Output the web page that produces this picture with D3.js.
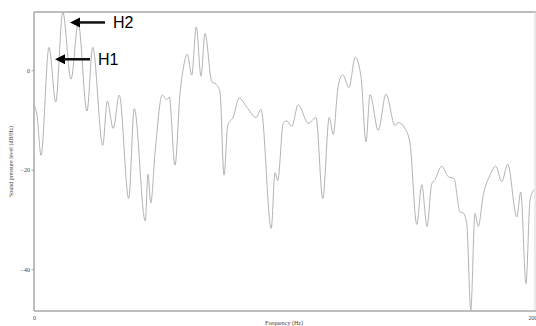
<!DOCTYPE html>
<html>
<head>
<meta charset="utf-8">
<script src="https://cdn.jsdelivr.net/npm/d3@7"></script>
<style>
  html, body { margin: 0; padding: 0; background: #fff; }
  svg { display: block; }
</style>
</head>
<body>
<svg id="chart" width="536" height="326"></svg>
<script>
// Spectrum: frequency (Hz) and sound pressure level (dB/Hz)
const freqHz = [0, 12, 28, 60, 87, 115, 148, 177, 212, 235, 275, 293, 317, 341, 379, 401, 445, 456, 467, 484,
  513, 531, 541, 564, 584, 597, 613, 631, 649, 668, 684, 711, 728, 744, 760, 775, 797, 821, 851, 888,
  908, 949, 964, 975, 997, 1011, 1031, 1057, 1097, 1128, 1155, 1181, 1197, 1216, 1235, 1260, 1285, 1308, 1328, 1344,
  1377, 1408, 1444, 1457, 1484, 1504, 1531, 1551, 1572, 1591, 1604, 1631, 1657, 1680, 1704, 1717, 1731, 1747, 1764, 1777,
  1797, 1824, 1847, 1871, 1895, 1931, 1947, 1968, 1984, 2000];
const levelDb = [-7.0, -9.0, -17.1, 4.6, -6.4, 11.7, -1.8, 9.4, -8.2, 4.6, -15.1, -6.2, -11.7, -5.0, -25.8, -7.7, -30.3, -20.9, -26.7, -16.7,
  -5.0, -5.9, -5.4, -19.1, -4.7, 0.3, 3.2, -1.0, 8.7, -1.2, 7.4, -2.3, -2.8, -4.4, -21.1, -11.1, -9.4, -5.6, -7.4, -9.5,
  -7.9, -31.8, -20.6, -22.2, -10.7, -10.2, -11.3, -6.9, -10.7, -9.5, -25.8, -9.5, -12.9, -3.4, -0.9, -3.5, 2.6, -1.3, -14.4, -4.9,
  -12.1, -4.8, -11.1, -10.5, -11.7, -14.7, -31.0, -23.0, -31.4, -22.8, -22.0, -19.3, -21.4, -21.8, -28.5, -28.7, -30.8, -48.2, -28.8, -31.4,
  -25.1, -21.1, -19.3, -22.4, -18.9, -29.5, -24.5, -42.9, -26.1, -24.0];

const xTicks = [0, 2000];
const yTicks = [-40, -20, 0];

// Harmonic annotations: arrow tip position in data units
const harmonicLabels = ["H1", "H2"];
const harmonicTipHz = [84, 144];
const harmonicTipDb = [2.2, 9.6];

const svg = d3.select("#chart");
const plotLeft = 34, plotRight = 534, plotTop = 12, plotBottom = 311;

const x = d3.scaleLinear().domain([0, 2000]).range([plotLeft, plotRight]);
const y = d3.scaleLinear().domain([-48.4, 11.7]).range([plotBottom, plotTop]);

const frameColor = "#a9a9a9";
const textColor = "#444";
const serif = "'Liberation Serif', 'DejaVu Serif', serif";

// Plot frame (top and right edges)
svg.append("line").attr("x1", plotLeft).attr("x2", 536).attr("y1", plotTop).attr("y2", plotTop)
  .attr("stroke", frameColor).attr("stroke-width", 1.5);
svg.append("line").attr("x1", plotRight + 1).attr("x2", plotRight + 1).attr("y1", plotTop).attr("y2", plotBottom)
  .attr("stroke", "#d4d4d4").attr("stroke-width", 1);

// Left axis
const yAxis = svg.append("g").attr("transform", `translate(${plotLeft},0)`)
  .call(d3.axisLeft(y).tickValues(yTicks).tickSize(2.5).tickPadding(1.5).tickFormat(d3.format("d")));
yAxis.select(".domain").attr("stroke", frameColor).attr("stroke-width", 1.5).attr("d", `M0,${plotTop}V${plotBottom}`);
yAxis.selectAll(".tick line").attr("stroke", frameColor);
yAxis.selectAll(".tick text").attr("fill", textColor)
  .style("font-family", serif).style("font-size", "6px");

// Bottom axis
const xAxis = svg.append("g").attr("transform", `translate(0,${plotBottom})`)
  .call(d3.axisBottom(x).tickValues(xTicks).tickSize(0).tickPadding(5).tickFormat(d3.format("d")));
xAxis.select(".domain").attr("stroke", frameColor).attr("stroke-width", 1.5).attr("d", `M${plotLeft},0H536`);
xAxis.selectAll(".tick text").attr("fill", textColor)
  .style("font-family", serif).style("font-size", "6px");

// Axis titles
svg.append("text")
  .attr("transform", `translate(13,${(plotTop + plotBottom) / 2}) rotate(-90)`)
  .attr("text-anchor", "middle")
  .attr("fill", textColor)
  .style("font-family", serif).style("font-size", "6px")
  .text("Sound pressure level (dB/Hz)");
svg.append("text")
  .attr("x", (plotLeft + plotRight) / 2)
  .attr("y", 325)
  .attr("text-anchor", "middle")
  .attr("fill", textColor)
  .style("font-family", serif).style("font-size", "6px")
  .text("Frequency (Hz)");

// Spectrum line
const points = freqHz.map((f, i) => [f, levelDb[i]]);
const line = d3.line().x(d => x(d[0])).y(d => y(d[1])).curve(d3.curveMonotoneX);
svg.append("path")
  .datum(points)
  .attr("fill", "none")
  .attr("stroke", "#b3b3b3")
  .attr("stroke-width", 1)
  .attr("d", line);

// Harmonic arrows and labels
harmonicLabels.forEach((label, i) => {
  const tx = x(harmonicTipHz[i]);
  const ty = y(harmonicTipDb[i]);
  const g = svg.append("g");
  g.append("path")
    .attr("d", `M${tx},${ty}L${tx + 10},${ty - 5}L${tx + 10},${ty + 5}Z`)
    .attr("fill", "#000");
  g.append("line")
    .attr("x1", tx + 9).attr("x2", tx + 35)
    .attr("y1", ty).attr("y2", ty)
    .attr("stroke", "#111").attr("stroke-width", 2.5);
  g.append("text")
    .attr("x", tx + 43)
    .attr("y", ty + 6)
    .attr("fill", "#000")
    .style("font-family", "'Liberation Sans', Arial, sans-serif")
    .style("font-size", "16px")
    .text(label);
});
</script>
</body>
</html>
